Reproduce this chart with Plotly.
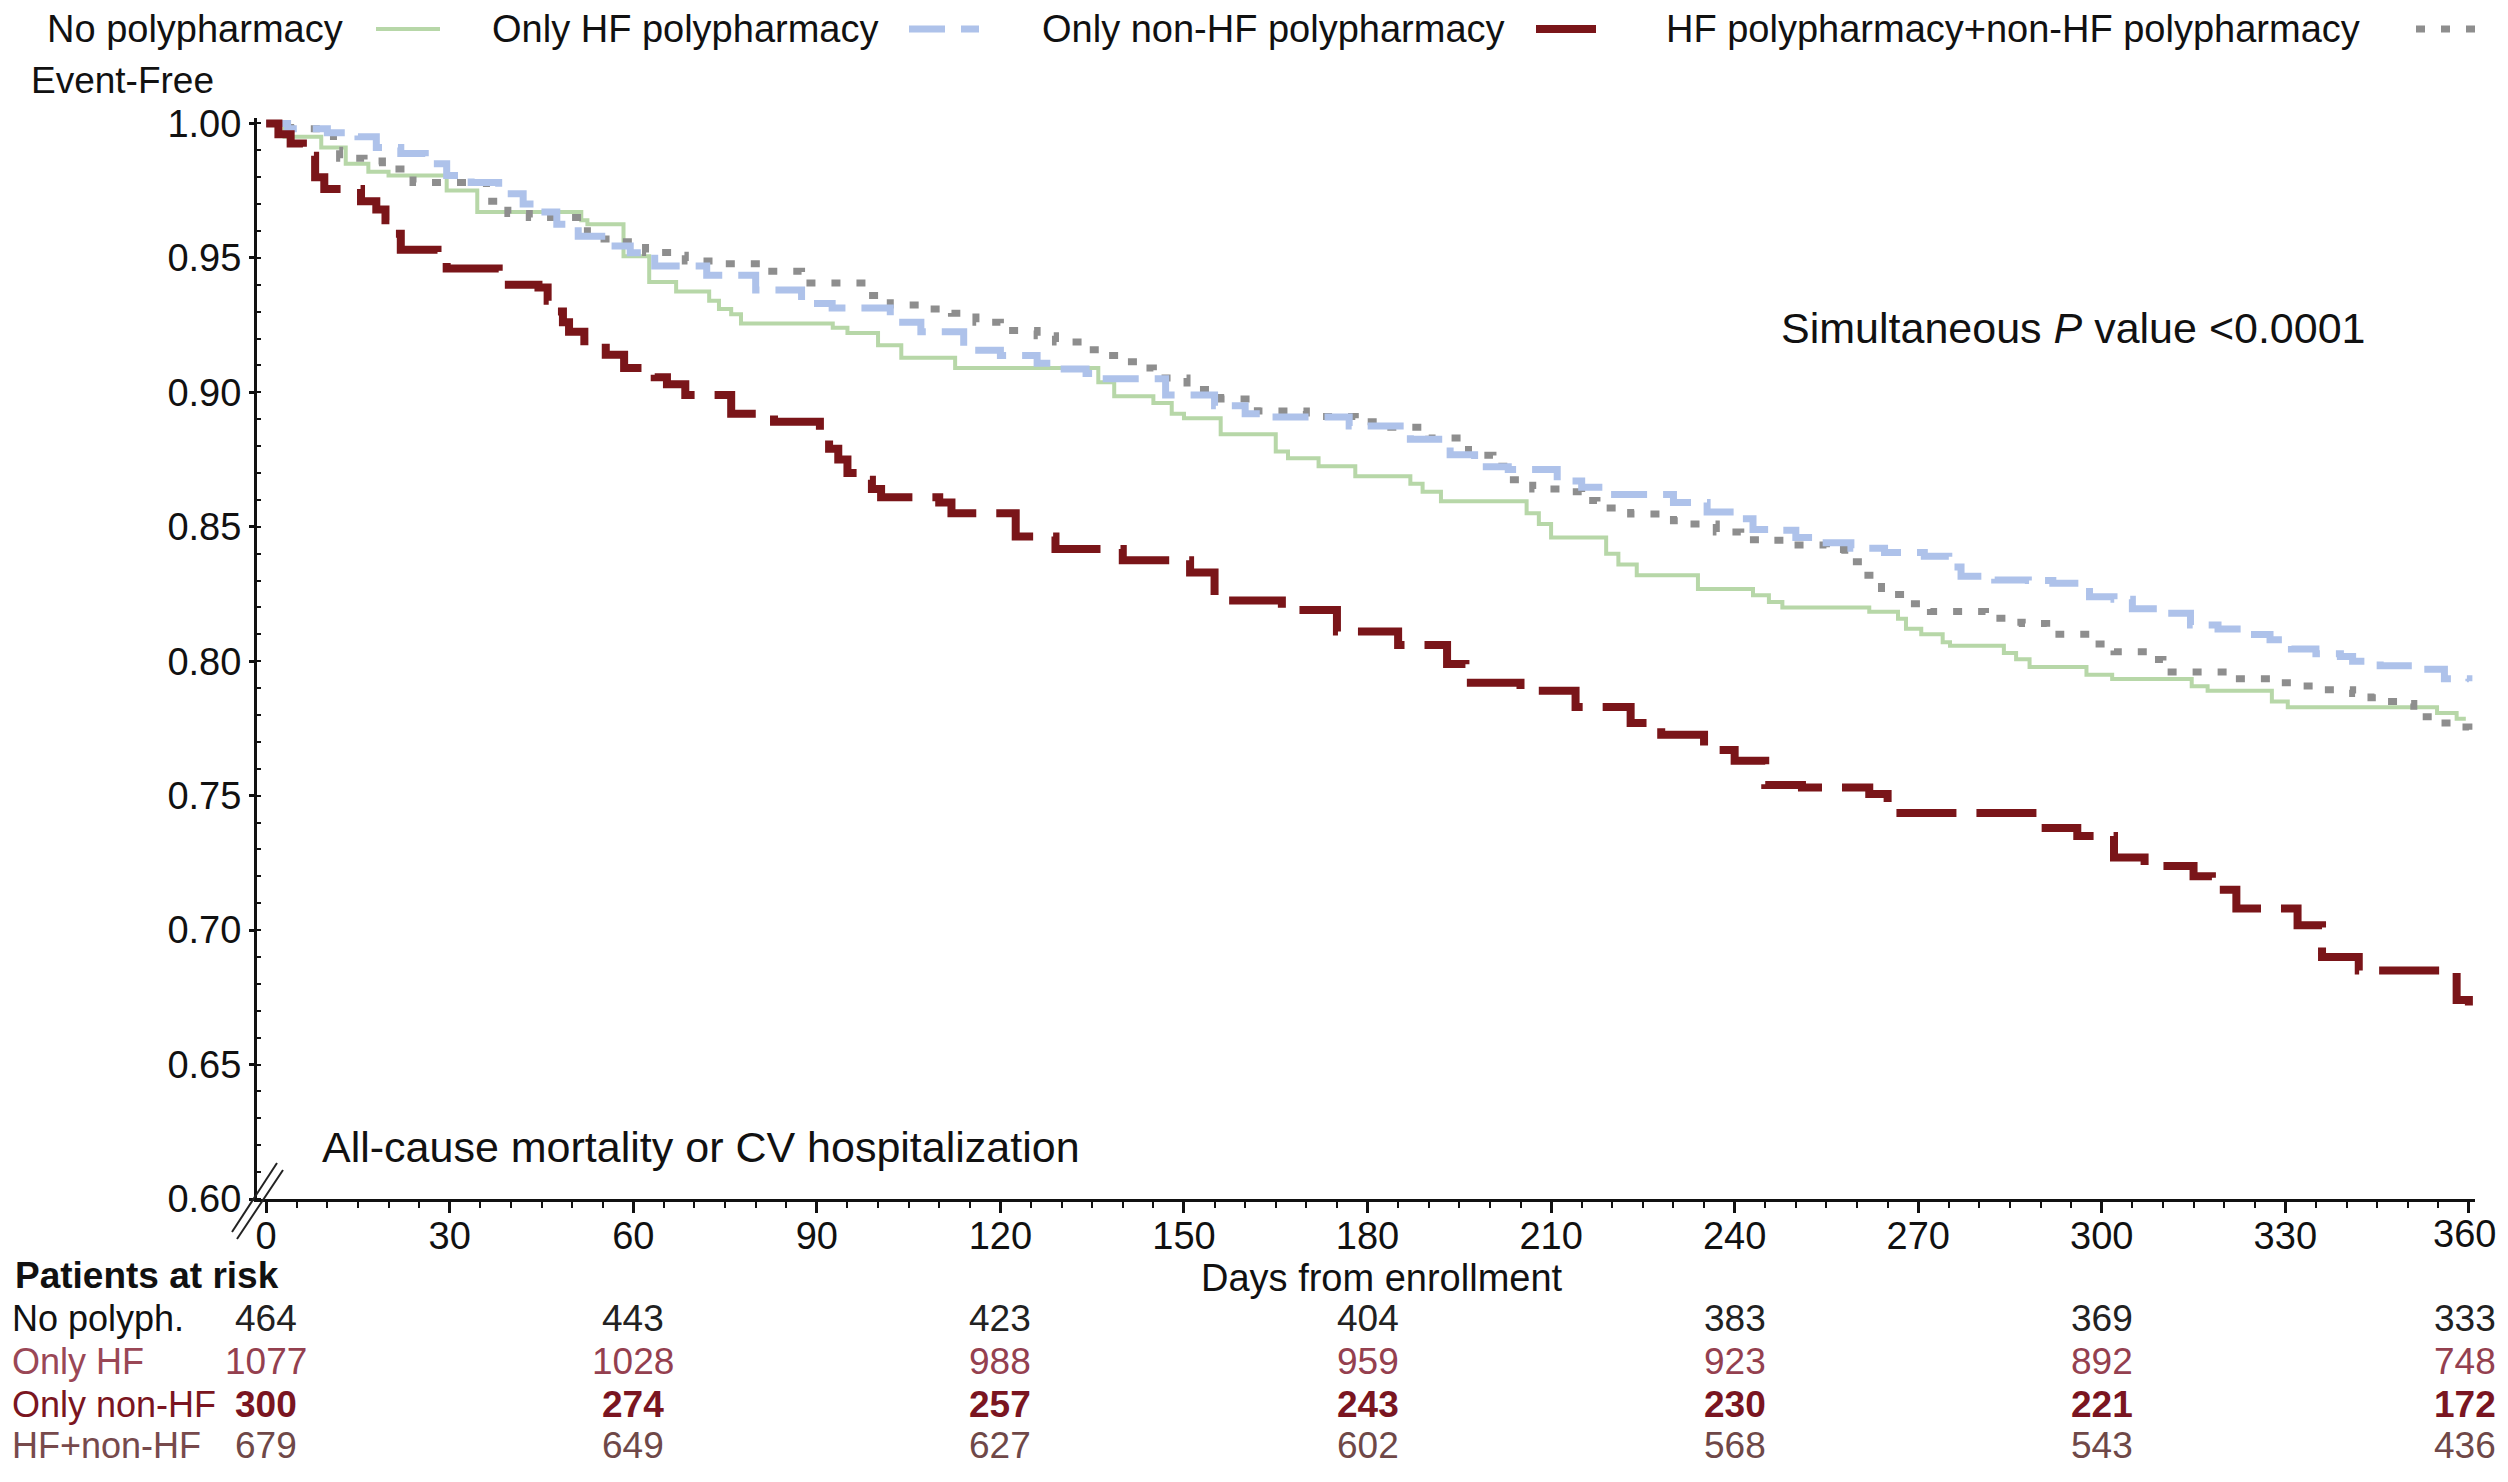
import plotly.graph_objects as go

# ---------------- data ----------------
groups = ["No polypharmacy", "Only HF polypharmacy", "Only non-HF polypharmacy",
          "HF polypharmacy+non-HF polypharmacy"]

km_none = [(0, 1.0), (3, 0.995), (9, 0.991), (13, 0.985), (16.7, 0.982), (20, 0.9806),
           (29.5, 0.975), (34.5, 0.967), (51.5, 0.964), (52.5, 0.9625), (58.4, 0.9506),
           (62.6, 0.941), (67, 0.9375), (72.4, 0.934), (74, 0.931), (76, 0.929),
           (77.6, 0.9256), (92.6, 0.924), (95, 0.922), (100, 0.9175), (103.8, 0.9128),
           (112.6, 0.909), (136, 0.9037), (138.6, 0.8985), (145, 0.896), (148, 0.892),
           (150, 0.8903), (156, 0.8844), (165, 0.878), (167, 0.8755), (172, 0.8725),
           (178, 0.8688), (187, 0.866), (189, 0.863), (192, 0.8595), (206, 0.855),
           (208, 0.851), (210, 0.846), (219, 0.84), (221, 0.836), (224, 0.832),
           (234, 0.8268), (243, 0.8245), (245.6, 0.822), (247.8, 0.820), (262, 0.8184),
           (266.7, 0.8158), (268, 0.8121), (270.5, 0.81), (274, 0.807), (275.2, 0.8057),
           (284, 0.803), (286, 0.8007), (288.2, 0.7978), (297.5, 0.795), (301.7, 0.7934),
           (314.7, 0.7907), (317.3, 0.789), (327.8, 0.785), (330.4, 0.7829),
           (354.8, 0.7807), (358, 0.7786), (359.5, 0.7786)]

km_hf = [(0, 1.0), (3.5, 0.998), (10, 0.9965), (15, 0.995), (18, 0.991), (22, 0.9888),
         (26, 0.985), (29.5, 0.9806), (33.5, 0.978), (38, 0.9738), (42, 0.970),
         (44, 0.967), (47.5, 0.9625), (51, 0.958), (56, 0.9544), (59.5, 0.9519),
         (63.5, 0.947), (72, 0.9435), (80, 0.938), (87.5, 0.933), (92.5, 0.9313),
         (102, 0.926), (107, 0.9225), (114, 0.9156), (120, 0.9137), (126, 0.9108),
         (129, 0.9087), (134, 0.907), (136.5, 0.905), (147, 0.899), (155, 0.895),
         (160, 0.892), (162.5, 0.8908), (177, 0.8875), (187, 0.8825), (193.5, 0.8768),
         (197.5, 0.8723), (203, 0.8713), (211, 0.867), (215, 0.8647), (219, 0.862),
         (230, 0.859), (235.5, 0.8555), (241, 0.853), (243, 0.849), (247, 0.8487),
         (250, 0.846), (253, 0.844), (259, 0.842), (264.5, 0.8404), (271, 0.839),
         (275, 0.835), (277, 0.8316), (282.5, 0.8302), (288, 0.830), (292, 0.829),
         (298, 0.824), (302, 0.823), (305, 0.8195), (310, 0.8178), (314.5, 0.8135),
         (319, 0.812), (324, 0.8099), (327.5, 0.808), (331, 0.8045), (335, 0.8028),
         (339, 0.8017), (341, 0.800), (345.5, 0.7983), (351, 0.797), (356, 0.7935),
         (360, 0.7925)]

km_nonhf = [(0, 1.0), (2, 0.996), (4, 0.9925), (6, 0.988), (8, 0.98), (9.5, 0.9756),
            (15.5, 0.971), (18, 0.968), (19.5, 0.964), (21, 0.959), (22, 0.953),
            (28, 0.951), (29.5, 0.946), (38, 0.94), (44.5, 0.939), (46, 0.934),
            (47, 0.930), (48.5, 0.926), (49.5, 0.9225), (52, 0.919), (55.5, 0.914),
            (58.5, 0.909), (63.5, 0.9056), (65.5, 0.903), (68.5, 0.899), (76, 0.892),
            (83, 0.889), (90.5, 0.884), (92, 0.879), (93.5, 0.875), (95, 0.87),
            (97, 0.8675), (99, 0.864), (100.5, 0.861), (110, 0.859), (112, 0.855),
            (122.5, 0.8464), (129, 0.8417), (140, 0.8375), (151, 0.833), (155, 0.8226),
            (166, 0.819), (175, 0.811), (185, 0.806), (193, 0.799), (196, 0.792),
            (205, 0.789), (214, 0.783), (223, 0.777), (228, 0.7726), (235, 0.767),
            (240, 0.763), (245, 0.754), (251, 0.753), (262, 0.7506), (265, 0.7435),
            (290, 0.738), (296, 0.735), (302, 0.727), (307, 0.7238), (315, 0.72),
            (318, 0.715), (322, 0.708), (332, 0.7018), (336, 0.69), (342, 0.685),
            (358, 0.674), (360, 0.672)]

km_both = [(0, 1.0), (4, 0.998), (11, 0.99), (12, 0.987), (16, 0.986), (19, 0.983),
           (24, 0.978), (36, 0.971), (39.5, 0.9665), (43, 0.965), (52.5, 0.959),
           (54.5, 0.957), (57, 0.956), (62, 0.952), (67, 0.951), (68.5, 0.9488),
           (75, 0.9478), (82, 0.945), (87.5, 0.9406), (98, 0.936), (102, 0.9325),
           (108, 0.931), (112, 0.9294), (116, 0.926), (120, 0.923), (126, 0.921),
           (129, 0.9187), (134, 0.9158), (137.5, 0.9137), (139.5, 0.9114), (143, 0.909),
           (145, 0.9053), (150.5, 0.901), (156, 0.8975), (162, 0.893), (170, 0.891),
           (178, 0.889), (182.5, 0.887), (190, 0.883), (196.5, 0.8766), (200.5, 0.8725),
           (203, 0.8675), (207, 0.864), (212, 0.863), (215, 0.8598), (217.5, 0.857),
           (223, 0.8547), (230, 0.8522), (232.5, 0.851), (237, 0.848), (241, 0.8452),
           (245, 0.845), (249, 0.8432), (255, 0.8415), (258, 0.837), (261, 0.832),
           (264, 0.8248), (268, 0.8214), (272, 0.8185), (281, 0.816), (285, 0.8145),
           (287, 0.814), (291, 0.812), (293, 0.810), (298, 0.8064), (302, 0.8035),
           (308, 0.8006), (310, 0.796), (320.5, 0.7935), (330, 0.792), (332, 0.7908),
           (335, 0.7894), (341, 0.788), (344, 0.7864), (346.5, 0.785), (348.5, 0.7843),
           (351, 0.7793), (355.5, 0.777), (358, 0.7755), (360, 0.7745)]

risk_times = [0, 60, 120, 180, 240, 300, 360]
risk_labels = ["No polyph.", "Only HF", "Only non-HF", "HF+non-HF"]
risk_none = [464, 443, 423, 404, 383, 369, 333]
risk_hf = [1077, 1028, 988, 959, 923, 892, 748]
risk_nonhf = [300, 274, 257, 243, 230, 221, 172]
risk_both = [679, 649, 627, 602, 568, 543, 436]

x_ticks = [0, 30, 60, 90, 120, 150, 180, 210, 240, 270, 300, 330, 360]
y_ticks = [0.60, 0.65, 0.70, 0.75, 0.80, 0.85, 0.90, 0.95, 1.00]

# ---------------- styles ----------------
FONT = "Liberation Sans, Arial, sans-serif"
styles = [
    dict(color="#b7d7a8", width=4, dash="solid"),
    dict(color="#aec2ea", width=7, dash="36px,16px"),
    dict(color="#7a1519", width=8, dash="60px,20px"),
    dict(color="#8e8e8e", width=7, dash="9px,16px"),
]
curves = [km_none, km_hf, km_nonhf, km_both]

fig = go.Figure()
for idx in [0, 3, 1, 2]:
    data = curves[idx]
    fig.add_trace(go.Scatter(
        x=[p[0] for p in data], y=[p[1] for p in data],
        mode="lines", line_shape="hv", line=styles[idx],
        name=groups[idx], showlegend=False, hoverinfo="skip"))

# page body has an 8px margin: shrink the figure to fit and shift coordinates
OFF = 8
W, H = 2508 - 2 * OFF, 1482 - 2 * OFF
L, T = 257 - OFF, 118 - OFF
R = W - (2475 - OFF)
B = H - (1199 - OFF)
pw, ph = W - L - R, H - T - B


def px(xr):
    return (xr - OFF - L) / pw


def py(yr):
    return (H - B - (yr - OFF)) / ph


annotations = []
shapes = []

# custom legend: text followed by a line sample
leg_text_x = [45, 490, 1040, 1664]
leg_line_x = [(376, 440), (909, 979), (1536, 1608), (2416, 2488)]
leg_y = 29
for i, name in enumerate(groups):
    annotations.append(dict(text=name, x=px(leg_text_x[i]), y=py(leg_y), xref="paper",
                            yref="paper", xanchor="left", yanchor="middle", showarrow=False,
                            font=dict(size=38, color="#111", family=FONT)))
    st = styles[i]
    shapes.append(dict(type="line", xref="paper", yref="paper",
                       x0=px(leg_line_x[i][0]), x1=px(leg_line_x[i][1]),
                       y0=py(leg_y), y1=py(leg_y),
                       line=dict(color=st["color"], width=st["width"], dash=st["dash"])))

annotations.append(dict(text="Event-Free", x=px(29), y=py(80), xref="paper", yref="paper",
                        xanchor="left", yanchor="middle", showarrow=False,
                        font=dict(size=37, color="#111", family=FONT)))
annotations.append(dict(text="All-cause mortality or CV hospitalization", x=px(320), y=py(1147),
                        xref="paper", yref="paper", xanchor="left", yanchor="middle",
                        showarrow=False, font=dict(size=43, color="#111", family=FONT)))
annotations.append(dict(text="Simultaneous <i>P</i> value &lt;0.0001", x=px(1779), y=py(328),
                        xref="paper", yref="paper", xanchor="left", yanchor="middle",
                        showarrow=False, font=dict(size=43, color="#111", family=FONT)))
annotations.append(dict(text="Days from enrollment", x=px(1382), y=py(1278),
                        xref="paper", yref="paper", xanchor="center", yanchor="middle",
                        showarrow=False, font=dict(size=38, color="#111", family=FONT)))
annotations.append(dict(text="<b>Patients at risk</b>", x=px(13), y=py(1275),
                        xref="paper", yref="paper", xanchor="left", yanchor="middle",
                        showarrow=False, font=dict(size=37, color="#111", family=FONT)))
# last x tick label (the axis would hide it because it touches the page edge)
annotations.append(dict(text=str(x_ticks[-1]), x=px(2498), y=py(1234), xref="paper",
                        yref="paper", xanchor="right", yanchor="middle", showarrow=False,
                        font=dict(size=38, color="#111", family=FONT)))

row_y = [1318, 1361, 1404, 1446]
label_colors = ["#111111", "#9a4756", "#7a1521", "#774a4c"]
num_colors = ["#222222", "#94404f", "#7a1521", "#6f4848"]
row_bold = [False, False, True, False]
row_values = [risk_none, risk_hf, risk_nonhf, risk_both]
for r in range(4):
    annotations.append(dict(text=risk_labels[r], x=px(10), y=py(row_y[r]), xref="paper",
                            yref="paper", xanchor="left", yanchor="middle", showarrow=False,
                            font=dict(size=36, color=label_colors[r], family=FONT)))
    for t, v in zip(risk_times, row_values[r]):
        txt = f"<b>{v}</b>" if row_bold[r] else str(v)
        if t == risk_times[-1]:
            annotations.append(dict(text=txt, x=px(2498), y=py(row_y[r]), xref="paper",
                                    yref="paper", xanchor="right", yanchor="middle",
                                    showarrow=False,
                                    font=dict(size=37, color=num_colors[r], family=FONT)))
        else:
            annotations.append(dict(text=txt, x=t, y=py(row_y[r]), xref="x", yref="paper",
                                    xanchor="center", yanchor="middle", showarrow=False,
                                    font=dict(size=37, color=num_colors[r], family=FONT)))

# axis break marks
for (x0, y0, x1, y1) in [(232, 1232, 277, 1163), (237, 1239, 283, 1170)]:
    shapes.append(dict(type="line", xref="paper", yref="paper", x0=px(x0), y0=py(y0),
                       x1=px(x1), y1=py(y1), line=dict(color="#222", width=2)))

fig.update_layout(
    width=W, height=H,
    margin=dict(l=L, r=R, t=T, b=B, pad=0),
    paper_bgcolor="white", plot_bgcolor="white",
    font=dict(family=FONT, size=38, color="#111"),
    annotations=annotations, shapes=shapes,
    showlegend=False,
)
fig.update_xaxes(range=[-1.5, 361], tickvals=x_ticks,
                 ticktext=[str(v) for v in x_ticks[:-1]] + [""],
                 showgrid=False, zeroline=False, showline=True, linecolor="#111", linewidth=3,
                 ticks="outside", ticklen=11, tickwidth=2.5, tickcolor="#111",
                 ticklabelstandoff=-10,
                 tickfont=dict(size=38, color="#111", family=FONT),
                 minor=dict(dtick=5, ticks="outside", ticklen=6, tickwidth=2, tickcolor="#111"))
fig.update_yaxes(range=[0.6, 1.002], tickvals=y_ticks, ticktext=[f"{v:.2f}" for v in y_ticks],
                 showgrid=False, zeroline=False, showline=True, linecolor="#111", linewidth=3,
                 ticks="outside", ticklen=5, tickwidth=2.5, tickcolor="#111",
                 tickfont=dict(size=38, color="#111", family=FONT),
                 minor=dict(dtick=0.01, ticks="inside", ticklen=4, tickwidth=1.5, tickcolor="#111"))

fig.write_html("out.html")
